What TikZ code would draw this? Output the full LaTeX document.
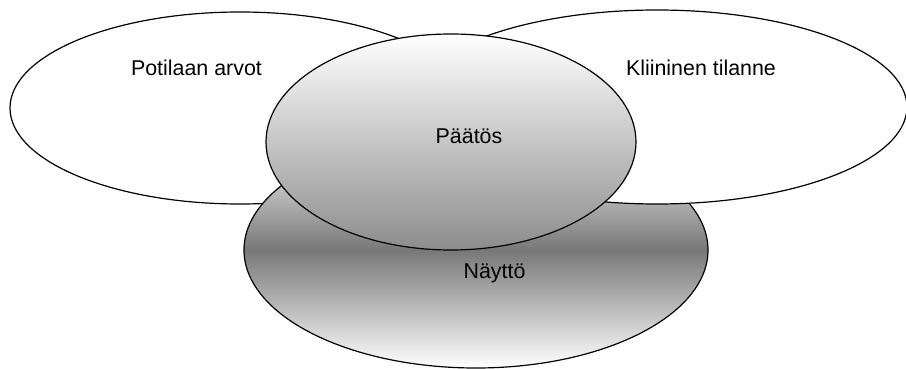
\documentclass[tikz,border=0pt]{standalone}
\usepackage{fontspec}
\setmainfont{Liberation Sans}
\usetikzlibrary{shapes.geometric}
\begin{document}
\begin{tikzpicture}[x=1pt,y=-1pt,
  blob/.style={ellipse, draw=black, line width=1.2pt, inner sep=0pt},
  plain/.style={blob, fill=white},
  lbl/.style={font=\fontsize{21.4}{24}\selectfont, anchor=base, inner sep=0pt}]
\useasboundingbox (0,0) rectangle (906,369);
% the four overlapping ellipses, back to front
\node[plain, minimum width=460pt, minimum height=192pt] (arvot) at (240,108) {};
\node[blob, minimum width=464pt, minimum height=236pt,
      top color=white, bottom color=white, middle color=black!53] (naytto) at (476,250) {};
\node[plain, minimum width=500pt, minimum height=194pt] (tilanne) at (657,107) {};
\node[blob, minimum width=370pt, minimum height=216pt,
      top color=white, bottom color=black!45] (paatos) at (451,142) {};
% labels
\node[lbl] (arvotlbl) at (196.5,76) {Potilaan arvot};
\node[lbl] (tilannelbl) at (701,76) {Kliininen tilanne};
\node[lbl] (paatoslbl) at (469,143) {Päätös};
\node[lbl] (nayttolbl) at (494.5,278) {Näyttö};
\end{tikzpicture}
\end{document}
